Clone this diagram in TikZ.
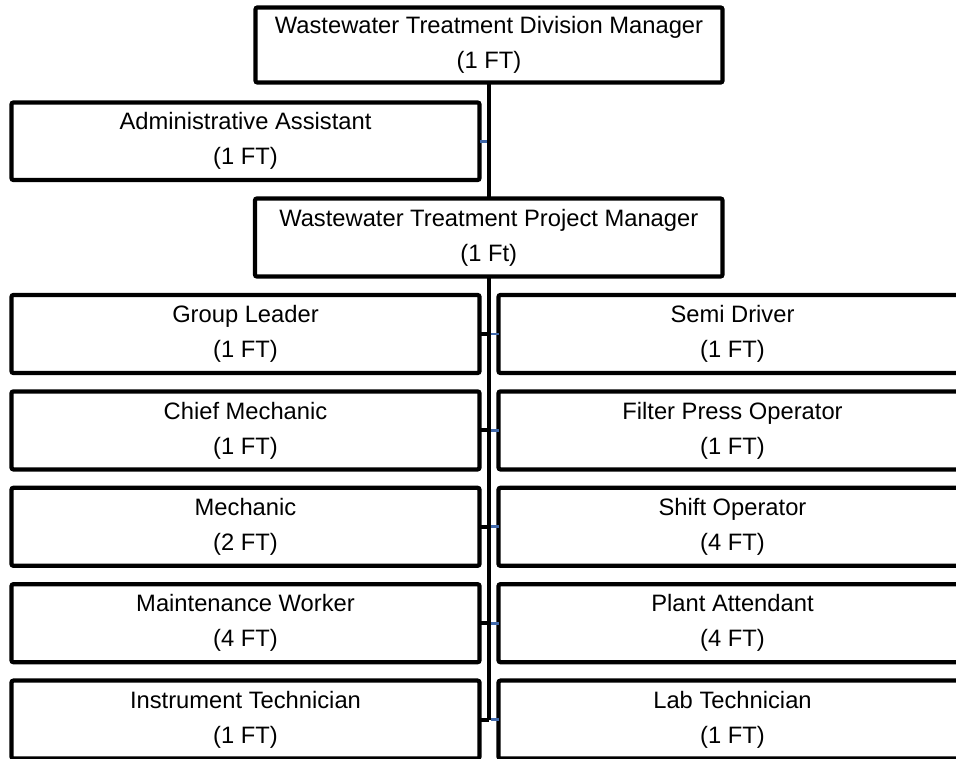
\documentclass[tikz,border=0pt]{standalone}
\usepackage{fontspec}
\setmainfont{Liberation Sans}
\definecolor{linkblue}{RGB}{64,104,170}
\begin{document}
\begin{tikzpicture}[x=0.75pt,y=-0.75pt,
  post/.style={draw=black, line width=3.2pt, fill=white, rounded corners=1.5pt,
    inner sep=0pt, outer sep=0pt, minimum width=351pt, minimum height=58.5pt,
    align=center, font=\fontsize{17.8}{26.25}\selectfont},
  trunkline/.style={draw=black, line width=3.4pt},
  leftlink/.style={draw=black, line width=3pt},
  rightlink/.style={draw=linkblue, line width=2.2pt}]
\useasboundingbox (0,0) rectangle (956,759);
\clip (0,0) rectangle (956,759);

% node positions (centres)
\coordinate (cTop) at (489,45);
\coordinate (cAdm) at (245.5,141.25);
\coordinate (cPM)  at (488.75,237.5);

% connectors (drawn first; the boxes are filled over them)
\coordinate (trunkEnd) at (489,719.6);
\coordinate (trunkTop) at (489,82.5);
\draw[trunkline] (trunkTop) -- (trunkEnd);

% boxes
\node[post, minimum width=350.25pt, minimum height=56.25pt] (dm) at (cTop)
  {Wastewater Treatment Division Manager\\(1 FT)};
\node[post, minimum height=58.1pt] (aa) at (cAdm)
  {Administrative Assistant\\(1 FT)};

\foreach \name/\y in {gl/334, cm/430.4, me/526.8, mw/623.2, it/719.6}{
  \coordinate (\name-l) at (245.5,\y);
}
\foreach \name/\y in {sd/334, fp/430.4, so/526.8, pa/623.2, lt/719.6}{
  \coordinate (\name-r) at (732.5,\y);
}

\node[post] (gl) at (gl-l) {Group Leader\\(1 FT)};
\node[post] (cm) at (cm-l) {Chief Mechanic\\(1 FT)};
\node[post] (me) at (me-l) {Mechanic\\(2 FT)};
\node[post] (mw) at (mw-l) {Maintenance Worker\\(4 FT)};
\node[post] (it) at (it-l) {Instrument Technician\\(1 FT)};

\node[post] (sd) at (sd-r) {Semi Driver\\(1 FT)};
\node[post] (fp) at (fp-r) {Filter Press Operator\\(1 FT)};
\node[post] (so) at (so-r) {Shift Operator\\(4 FT)};
\node[post] (pa) at (pa-r) {Plant Attendant\\(4 FT)};
\node[post] (lt) at (lt-r) {Lab Technician\\(1 FT)};

% short links between the boxes and the trunk
\draw[rightlink] (aa.east) -- (aa.east -| trunkTop);
\foreach \l/\r in {gl/sd, cm/fp, me/so, mw/pa, it/lt}{
  \draw[leftlink] (\l.east) -- (\l.east -| trunkTop);
  \draw[rightlink] ([xshift=1.3pt]\l.east -| trunkTop) -- (\r.west);
}
\draw[trunkline] (trunkTop) -- (trunkEnd);

% project manager box sits over the trunk
\node[post, minimum width=350.6pt] (pm) at (cPM)
  {Wastewater Treatment Project Manager\\(1 Ft)};
\end{tikzpicture}
\end{document}
